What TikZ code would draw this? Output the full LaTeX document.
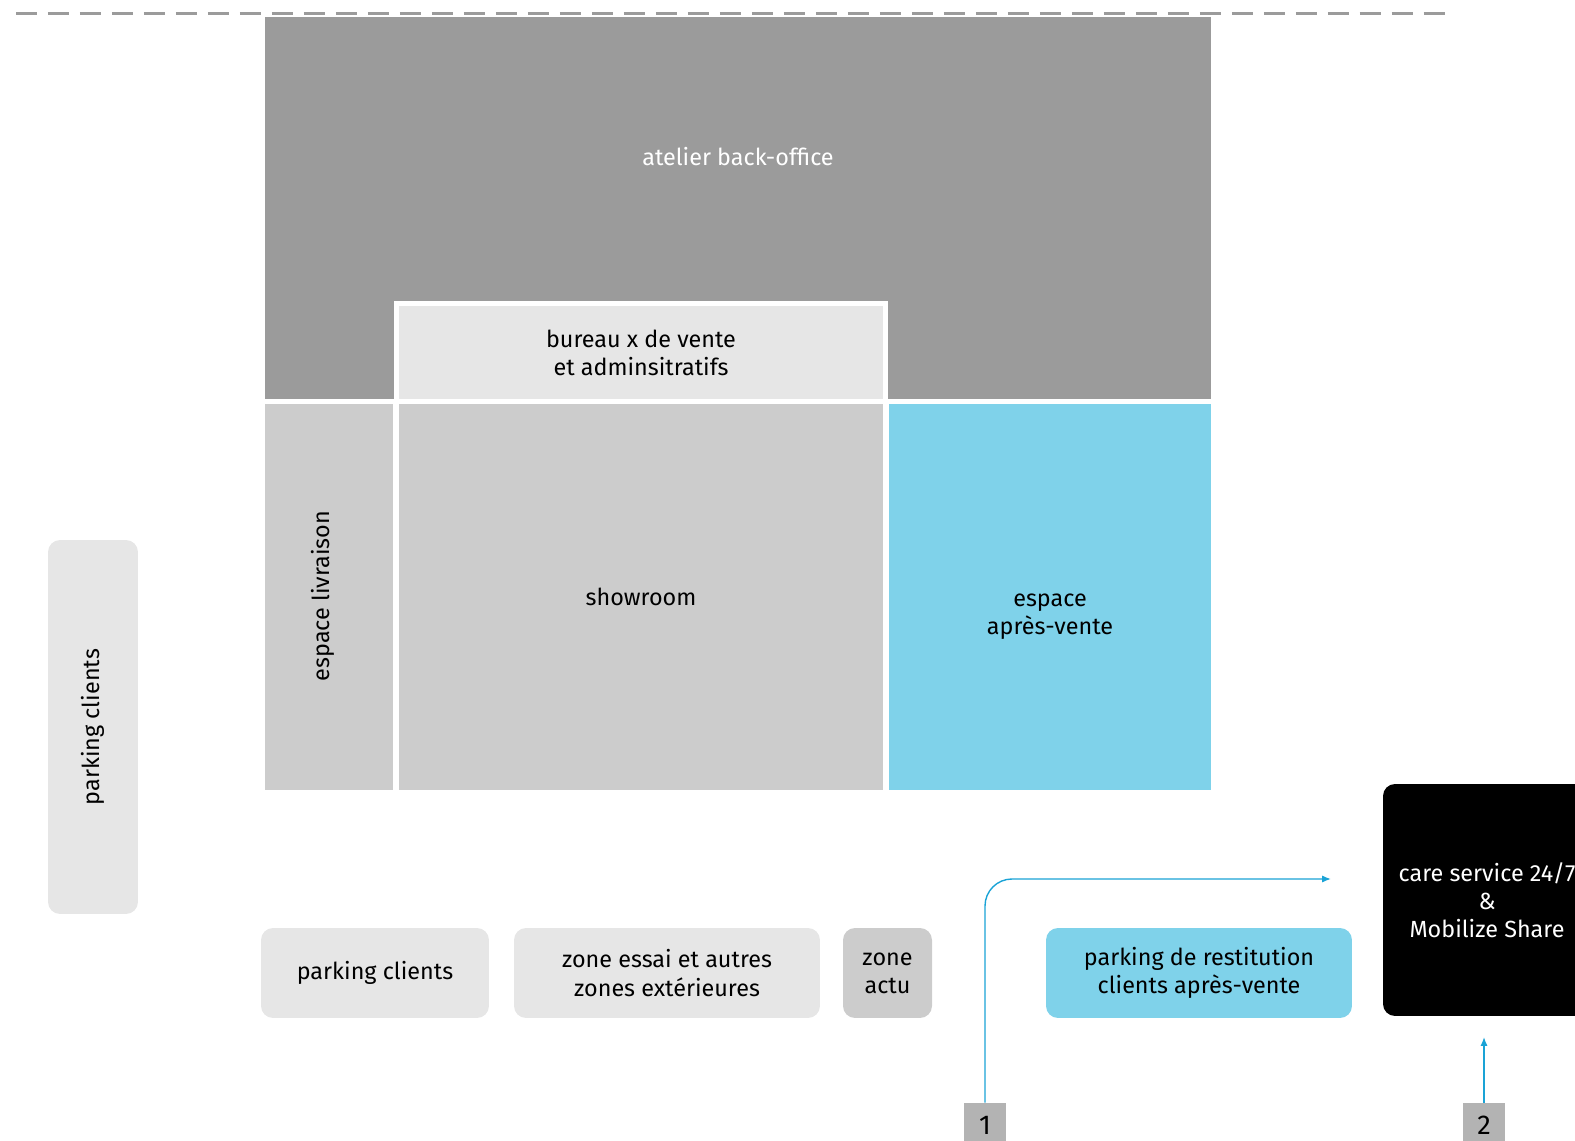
\documentclass[tikz,border=0pt]{standalone}
\usepackage{fontspec}
\setmainfont{Fira Sans}
\usetikzlibrary{arrows.meta}
\definecolor{dgray}{HTML}{9B9B9B}
\definecolor{mgray}{HTML}{CCCCCC}
\definecolor{lgray}{HTML}{E6E6E6}
\definecolor{tgray}{HTML}{B3B3B3}
\definecolor{sky}{HTML}{7FD2EA}
\definecolor{flowblue}{HTML}{1AA3D6}
\newcommand{\lbl}{\fontsize{13.3}{16}\selectfont}
\begin{document}
\begin{tikzpicture}[x=0.02cm,y=-0.02cm,
  room/.style={draw=white,line width=0.1cm,inner sep=0pt,align=center,font=\lbl},
  pad/.style={rounded corners=0.24cm,inner sep=0pt,align=center,font=\lbl,minimum height=1.8cm},
  num/.style={fill=tgray,inner sep=0pt,minimum width=0.84cm,minimum height=0.88cm,font=\fontsize{15.5}{18}\selectfont},
  flow/.style={draw=flowblue,line width=0.8pt,-{Latex[length=5pt,width=4pt]}}]
\useasboundingbox (0,0) rectangle (1575,1141);
\coordinate (d0) at (16,14);
\coordinate (d1) at (1447,14);
\draw[dgray,line width=0.06cm,dash pattern=on 0.42cm off 0.22cm] (d0) -- (d1);
\node (backoffice) [fill=dgray,inner sep=0pt,minimum width=18.92cm,minimum height=7.64cm] at (738,208) {};
\node (atelier) [text=white,font=\lbl] at (738,157) {atelier back-office};
\node (bureau) [room,fill=lgray,minimum width=9.8cm,minimum height=2cm] at (641,353) {bureau x de vente\\et adminsitratifs};
\node (livraison) [room,fill=mgray,minimum width=2.67cm,minimum height=7.82cm] at (329.25,597) {};
\node (livtext) [rotate=90,font=\lbl] at (323,596) {espace livraison};
\node (showroom) [room,fill=mgray,minimum width=9.8cm,minimum height=7.82cm] at (641,597) {showroom};
\node (apres) [room,fill=sky,minimum width=6.55cm,minimum height=7.82cm] at (1049.75,597) {};
\node (aptext) [align=center,font=\lbl] at (1050,617) {espace\\après-vente};
\node (parkleft) [pad,fill=lgray,rotate=90,minimum width=7.48cm] at (93,727) {parking clients};
\node (parking) [pad,fill=lgray,minimum width=4.56cm] at (375,973) {parking clients};
\node (essai) [pad,fill=lgray,minimum width=6.12cm] at (667,973) {zone essai et autres\\zones extérieures};
\node (actu) [pad,fill=mgray,minimum width=1.78cm] at (887.5,973) {zone\\actu};
\node (restitution) [pad,fill=sky,minimum width=6.12cm] at (1199,973) {parking de restitution\\clients après-vente};
\node (care) [pad,fill=black,text=white,minimum width=4.16cm,minimum height=4.64cm] at (1487,900) {care service 24/7\\\&\\Mobilize Share};
\node (num1) [num] at (985,1125) {1};
\node (num2) [num] at (1484,1125) {2};
\coordinate (t1) at (1331,879);
\coordinate (t2) at (1484,1037);
\draw[flow,rounded corners=0.54cm] (num1.north) |- (t1);
\draw[flow] (num2.north) -- (t2);
\end{tikzpicture}
\end{document}
